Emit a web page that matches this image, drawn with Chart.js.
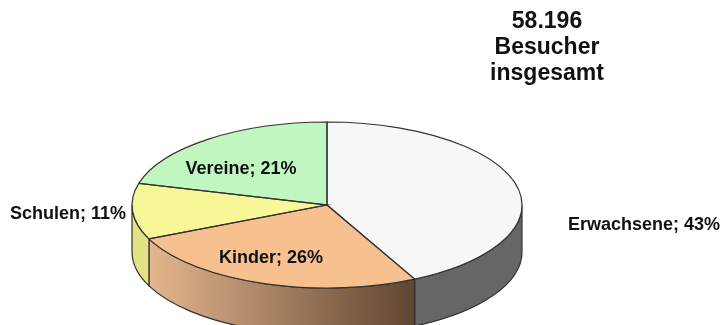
<!DOCTYPE html>
<html lang="de">
<head>
<meta charset="utf-8">
<title>Besucher</title>
<script src="https://cdn.jsdelivr.net/npm/chart.js@4"></script>
<style>
  html, body { margin: 0; padding: 0; background: #fff; }
  canvas { display: block; filter: blur(0.4px); }
</style>
</head>
<body>
<canvas id="myChart" width="723" height="325"></canvas>
<script>
'use strict';

const categories = ['Erwachsene', 'Kinder', 'Schulen', 'Vereine'];
const percentValues = [43, 26, 11, 21];
const titleLines = ['58.196', 'Besucher', 'insgesamt'];

const topColors = ['#f7f7f7', '#f6c08f', '#f8f798', '#c0f7c0'];
const wallColors = [['#666666', '#666666'], ['#e4b68e', '#5f4530'], ['#e2e184', '#e2e184'], ['#a8d8a8', '#a8d8a8']];
const labelSpots = [[644, 225], [271, 258], [68, 214], [241, 169]];

const tilt = 83 / 195; // height of the flattened pie against its width
const depth = 47;
const lineColor = '#333333';
const labelFont = 'bold 18px "Liberation Sans", Arial, sans-serif';
const titleFont = 'bold 23px "Liberation Sans", Arial, sans-serif';

function slicePath(ctx, arc, cy, from, to) {
  const ry = arc.outerRadius * tilt;
  ctx.beginPath();
  ctx.ellipse(arc.x, cy, arc.outerRadius, ry, 0, from, to);
}

function drawWalls(chart) {
  const ctx = chart.ctx;
  const slices = chart.getDatasetMeta(0).data;

  for (let i = 0; i < slices.length; i++) {
    const arc = slices[i];
    // only the front half of the pie shows a wall
    const from = Math.max(arc.startAngle, 0);
    const to = Math.min(arc.endAngle, Math.PI);
    if (to <= from) {
      continue;
    }
    const ry = arc.outerRadius * tilt;
    const leftX = arc.x + arc.outerRadius * Math.cos(to);
    const rightX = arc.x + arc.outerRadius * Math.cos(from);

    slicePath(ctx, arc, arc.y, from, to);
    ctx.lineTo(leftX, arc.y + ry * Math.sin(to) + depth);
    ctx.ellipse(arc.x, arc.y + depth, arc.outerRadius, ry, 0, to, from, true);
    ctx.closePath();

    const gradient = ctx.createLinearGradient(leftX, 0, rightX, 0);
    gradient.addColorStop(0, wallColors[i][0]);
    gradient.addColorStop(1, wallColors[i][1]);
    ctx.fillStyle = gradient;
    ctx.fill();
    ctx.strokeStyle = lineColor;
    ctx.lineWidth = 1.2;
    ctx.stroke();
  }
}

function drawTopOutlines(chart) {
  const ctx = chart.ctx;
  ctx.strokeStyle = lineColor;
  ctx.lineWidth = 1.2;
  for (const arc of chart.getDatasetMeta(0).data) {
    slicePath(ctx, arc, arc.y, arc.startAngle, arc.endAngle);
    ctx.lineTo(arc.x, arc.y);
    ctx.closePath();
    ctx.stroke();
  }
}

function drawTexts(chart) {
  const ctx = chart.ctx;
  ctx.fillStyle = '#111111';
  ctx.textAlign = 'center';
  ctx.textBaseline = 'middle';

  ctx.font = labelFont;
  for (let i = 0; i < categories.length; i++) {
    ctx.fillText(`${categories[i]}; ${percentValues[i]}%`, labelSpots[i][0], labelSpots[i][1]);
  }

  ctx.font = titleFont;
  for (let i = 0; i < titleLines.length; i++) {
    ctx.fillText(titleLines[i], 547, 22 + i * 26);
  }
}

// Chart.js only draws round pies, so the top gets squashed here and the wall added under it
const flatPie = {
  id: 'flatPie',
  beforeDatasetsDraw(chart) {
    const ctx = chart.ctx;
    const center = chart.getDatasetMeta(0).data[0];
    drawWalls(chart);
    ctx.save();
    ctx.translate(center.x, center.y);
    ctx.scale(1, tilt);
    ctx.translate(-center.x, -center.y);
  },
  afterDatasetsDraw(chart) {
    chart.ctx.restore();
    drawTopOutlines(chart);
    drawTexts(chart);
  },
};

const canvasChart = document.getElementById('myChart');
new Chart(canvasChart, {
  type: 'pie',
  data: {
    labels: categories,
    datasets: [
      {
        data: percentValues,
        backgroundColor: topColors,
        borderWidth: 0,
        radius: 195,
        clip: false,
      },
    ],
  },
  options: {
    responsive: false,
    animation: false,
    layout: { padding: { top: 85, right: 69 } },
    plugins: {
      legend: { display: false },
      tooltip: { enabled: false },
    },
  },
  plugins: [flatPie],
});
</script>
</body>
</html>
